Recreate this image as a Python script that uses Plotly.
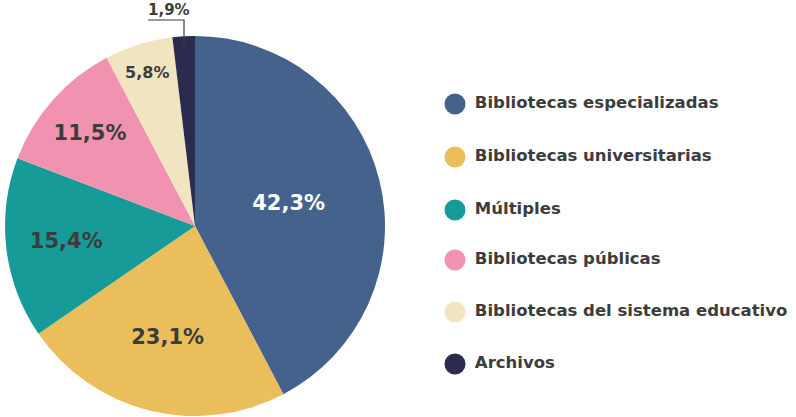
import plotly.graph_objects as go

categories = ["Bibliotecas especializadas", "Bibliotecas universitarias", "Múltiples",
              "Bibliotecas públicas", "Bibliotecas del sistema educativo", "Archivos"]
values = [42.3, 23.1, 15.4, 11.5, 5.8, 1.9]
value_labels = ["42,3%", "23,1%", "15,4%", "11,5%", "5,8%", "1,9%"]

colors = ["#45628C", "#E9BE5B", "#169B98", "#F193B0", "#F0E5C0", "#2B2B4D"]
text_colors = ["#FFFFFF", "#3C3C3C", "#3C3C3C", "#3C3C3C", "#3C3C3C", "#3C3C3C"]
text_sizes = [21, 21, 21, 21, 16, 14]

W, H = 796, 417
FONT = "DejaVu Sans"

fig = go.Figure()

inside_text = [t if i < 5 else "" for i, t in enumerate(value_labels)]
fig.add_trace(go.Pie(
    values=values, labels=categories, sort=False, direction="clockwise", rotation=0,
    marker=dict(colors=colors, line=dict(width=0)),
    text=inside_text, textinfo="text", textposition="inside",
    insidetextorientation="horizontal",
    insidetextfont=dict(family=FONT, color=text_colors, size=text_sizes, weight="bold"),
    domain=dict(x=[5 / W, 385 / W], y=[1 / H, 381 / H]),
    showlegend=False, hoverinfo="label+percent",
))

# custom legend with circle markers
legend_y = [104, 157, 210, 260, 312, 364]
fig.add_trace(go.Scatter(
    x=[455] * len(categories), y=legend_y, mode="markers+text",
    marker=dict(color=colors, size=21, symbol="circle"),
    text=[" " + c for c in categories], textposition="middle right",
    textfont=dict(family=FONT, size=16.5, color="#3C3C3C", weight="bold"),
    showlegend=False, hoverinfo="skip", xaxis="x", yaxis="y",
))

# outside label for the small slice
fig.add_shape(type="path", xref="x", yref="y",
              path="M 184 46 L 184 20 L 148 20", line=dict(color="#3C3C3C", width=1.2))
fig.add_annotation(x=146, y=10, xref="x", yref="y", text=value_labels[5], showarrow=False,
                   xanchor="left", yanchor="middle",
                   font=dict(family=FONT, size=15, color="#3C3C3C", weight="bold"))

fig.update_layout(
    width=W, height=H, margin=dict(l=0, r=0, t=0, b=0),
    paper_bgcolor="white", plot_bgcolor="rgba(0,0,0,0)",
    xaxis=dict(range=[0, W], visible=False, fixedrange=True),
    yaxis=dict(range=[H, 0], visible=False, fixedrange=True),
)

fig.write_html("out.html", config={"displayModeBar": False},
               post_script="document.body.style.margin='0';")
